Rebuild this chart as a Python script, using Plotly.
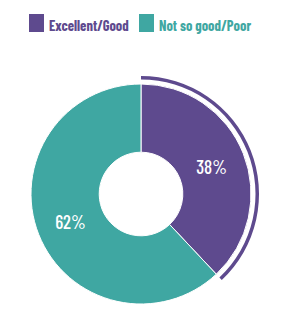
import plotly.graph_objects as go

categories = ["Excellent/Good", "Not so good/Poor"]
values = [38, 62]
colors = ["#5e4a8e", "#3fa7a2"]

W, H = 291, 317
FONT = "Barlow Condensed, DejaVu Sans Condensed, sans-serif"

cx, cy = 141, 194  # pixel centre (from top-left)

def dom(r):
    return dict(x=[(cx - r) / W, (cx + r) / W],
                y=[(H - cy - r) / H, (H - cy + r) / H])

fig = go.Figure()

fig.add_trace(go.Pie(
    labels=categories, values=values, sort=False, direction="clockwise",
    rotation=0, hole=0.38, domain=dom(110),
    marker=dict(colors=colors, line=dict(color="white", width=1)),
    textinfo="percent", texttemplate="%{percent:.0%}",
    textposition="inside", insidetextorientation="horizontal",
    textfont=dict(family=FONT, size=19, color="white", weight=500),
    showlegend=False, hoverinfo="label+percent",
))

# outer highlight arc around the first category
fig.add_trace(go.Pie(
    labels=categories, values=values, sort=False, direction="clockwise",
    rotation=0, hole=114.5 / 118, domain=dom(118),
    marker=dict(colors=[colors[0], "rgba(0,0,0,0)"], line=dict(width=0)),
    textinfo="none", showlegend=False, hoverinfo="skip",
))

# custom legend
legend_items = [(29, 49), (139, 159)]
shapes, annotations = [], []
for (sx, tx), name, col in zip(legend_items, categories, colors):
    shapes.append(dict(type="rect", xref="paper", yref="paper",
                       x0=sx / W, x1=(sx + 15) / W,
                       y0=(H - 32) / H, y1=(H - 14) / H,
                       fillcolor=col, line=dict(width=0)))
    annotations.append(dict(xref="paper", yref="paper", x=(tx - 2) / W, y=(H - 25) / H,
                            xanchor="left", yanchor="middle", showarrow=False,
                            text=name,
                            font=dict(family=FONT, size=14.5, color=col, weight=700)))

fig.update_layout(width=W, height=H, margin=dict(l=0, r=0, t=0, b=0),
                  paper_bgcolor="white", plot_bgcolor="white",
                  shapes=shapes, annotations=annotations)

fig.write_html("out.html")
